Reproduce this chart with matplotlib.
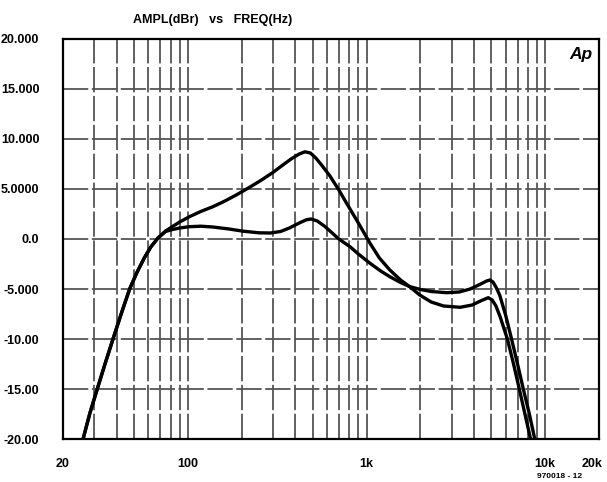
import matplotlib
matplotlib.use("Agg")
import matplotlib.pyplot as plt
from matplotlib.ticker import FixedLocator, NullFormatter
from matplotlib.transforms import ScaledTranslation

plt.rcParams['font.family'] = ['Liberation Sans', 'DejaVu Sans']

# ---- data ----
freq_a = [25.9, 28.3, 31.1, 34.5, 38.1, 42.5, 47.2, 52, 57, 62, 68, 75, 82, 90, 102, 118, 138,
          160, 185, 204, 230, 260, 300, 340, 380, 420, 452, 485, 520, 560, 624, 700, 760, 808,
          900, 1046, 1180, 1350, 1550, 1752, 1984, 2300, 2700, 3340, 3900, 4400, 4800, 5050,
          5300, 5600, 6140, 6650, 7160, 7700, 8280]
ampl_a = [-20, -17.4, -15, -12.4, -10, -7.4, -5, -3.3, -1.9, -0.8, 0.1, 0.8, 1.25, 1.7, 2.23,
          2.75, 3.23, 3.77, 4.37, 4.8, 5.35, 5.93, 6.67, 7.4, 8.03, 8.5, 8.72, 8.6, 8.1, 7.4,
          6.3, 4.9, 3.8, 3.0, 1.6, -0.43, -1.9, -3.1, -4.1, -4.8, -5.6, -6.3, -6.7, -6.83,
          -6.6, -6.15, -5.87, -6.1, -6.7, -7.8, -10, -12.5, -15, -17.5, -20]

freq_b = [25.9, 28.3, 31.1, 34.5, 38.1, 42.5, 47.2, 52, 57, 62, 68, 75, 82, 90, 102, 118, 138,
          170, 204, 250, 290, 330, 370, 420, 460, 490, 530, 580, 624, 700, 808, 900, 1046,
          1200, 1350, 1550, 1752, 1984, 2300, 2808, 3300, 3800, 4300, 4700, 4900, 5100, 5300,
          5560, 6000, 6480, 7000, 7540, 8150, 8740]
ampl_b = [-20, -17.4, -15, -12.4, -10, -7.4, -5, -3.3, -1.9, -0.8, 0.1, 0.75, 0.95, 1.1, 1.23,
          1.28, 1.2, 1.0, 0.78, 0.62, 0.6, 0.75, 1.1, 1.6, 1.92, 2.0, 1.8, 1.3, 0.8, 0.0,
          -0.77, -1.5, -2.43, -3.2, -3.77, -4.35, -4.77, -5.03, -5.25, -5.37, -5.3, -5.0,
          -4.55, -4.2, -4.1, -4.3, -4.8, -5.6, -7.6, -10, -12.5, -15, -17.5, -20]

x_major = [20, 100, 1000, 10000, 20000]
x_labels = ["20", "100", "1k", "10k", "20k"]
x_minor = [30, 40, 50, 60, 70, 80, 90, 200, 300, 400, 500, 600, 700, 800, 900,
           2000, 3000, 4000, 5000, 6000, 7000, 8000, 9000]
y_ticks = [20, 15, 10, 5, 0, -5, -10, -15, -20]
y_labels = ["20.000", "15.000", "10.000", "5.0000", "0.0", "-5.000", "-10.00", "-15.00", "-20.00"]

# ---- figure ----
W, H = 607, 482
fig = plt.figure(figsize=(W / 100, H / 100), dpi=100)
ax = fig.add_axes([63 / W, 1 - 439 / H, (599 - 63) / W, (439 - 39) / H])

ax.set_xscale('log')
ax.set_xlim(20, 20000)
ax.set_ylim(-20, 20)

ax.xaxis.set_major_locator(FixedLocator(x_major))
ax.set_xticklabels(x_labels)
ax.xaxis.set_minor_locator(FixedLocator(x_minor))
ax.xaxis.set_minor_formatter(NullFormatter())
ax.set_yticks(y_ticks)
ax.set_yticklabels(y_labels)

ax.tick_params(which='both', length=0)
ax.tick_params(axis='y', pad=17, labelsize=9)
ax.tick_params(axis='x', pad=14, labelsize=9)
for lab in ax.get_xticklabels() + ax.get_yticklabels():
    lab.set_fontweight('bold')
# keep the last x label inside the picture
last = ax.get_xticklabels()[-1]
last.set_transform(last.get_transform() + ScaledTranslation(-5 / 72, 0, fig.dpi_scale_trans))

grid_kw = dict(color='#555555', linewidth=1.3, linestyle=(0, (14, 2)))
ax.grid(which='major', axis='both', **grid_kw)
ax.grid(which='minor', axis='x', **grid_kw)
ax.set_axisbelow(True)

for s in ax.spines.values():
    s.set_linewidth(1.6)
    s.set_color('black')

ax.plot(freq_a, ampl_a, color='black', linewidth=2.4, solid_capstyle='butt',
        solid_joinstyle='round', zorder=3)
ax.plot(freq_b, ampl_b, color='black', linewidth=2.4, solid_capstyle='butt',
        solid_joinstyle='round', zorder=3)

fig.text(213 / W, 1 - 20 / H, "AMPL(dBr)   vs   FREQ(Hz)", ha='center', va='center',
         fontsize=9, fontweight='bold')
fig.text(581 / W, 1 - 54 / H, "Ap", ha='center', va='center', fontsize=12.5, style='italic',
         fontweight='bold')
fig.text(560 / W, 1 - 476 / H, "970018 - 12", ha='center', va='center', fontsize=6,
         fontweight='bold')

fig.savefig("out.png", dpi=100)
